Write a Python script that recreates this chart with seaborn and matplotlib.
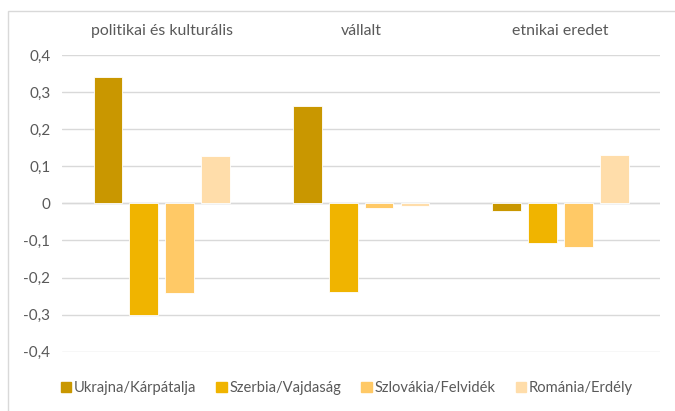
# csoportositott oszlopdiagram: regiok szerinti eltérések harom dimenzioban
import pandas as pd
import matplotlib.pyplot as plt
import seaborn as sns
from matplotlib.patches import Rectangle
from matplotlib.ticker import FuncFormatter

categories = ["politikai és kulturális", "vállalt", "etnikai eredet"]
regions = ["Ukrajna/Kárpátalja", "Szerbia/Vajdaság", "Szlovákia/Felvidék", "Románia/Erdély"]
ukrajna = [0.340, 0.263, -0.020]
szerbia = [-0.301, -0.240, -0.107]
szlovakia = [-0.243, -0.012, -0.118]
romania = [0.128, -0.008, 0.130]
colors = ["#C99700", "#F0B400", "#FFC966", "#FFDDAA"]

rows = []
for reg, vals in zip(regions, [ukrajna, szerbia, szlovakia, romania]):
    for cat, v in zip(categories, vals):
        rows.append({"kategoria": cat, "regio": reg, "ertek": v})
df = pd.DataFrame(rows)

sns.set_style("white")
plt.rcParams["font.family"] = ["Lato", "DejaVu Sans"]
TXT = "#595959"

fig = plt.figure(figsize=(6.75, 4.11), dpi=100)
ax = fig.add_axes([0.092, 0.1443, 0.886, 0.7219])

sns.barplot(data=df, x="kategoria", y="ertek", hue="regio", order=categories,
            hue_order=regions, palette=colors, saturation=1, ax=ax, width=0.72,
            gap=0.2, edgecolor="white", linewidth=0.6, legend=False)

ax.set_ylim(-0.4, 0.4)
ax.set_yticks([-0.4, -0.3, -0.2, -0.1, 0, 0.1, 0.2, 0.3, 0.4])
ax.yaxis.set_major_formatter(FuncFormatter(lambda v, p: "0" if abs(v) < 1e-9 else f"{v:.1f}".replace(".", ",")))
ax.grid(axis="y", color="#D9D9D9", linewidth=1)
ax.set_axisbelow(True)
ax.axhline(0, color="#D9D9D9", linewidth=1, zorder=0)
for s in ax.spines.values():
    s.set_visible(False)
ax.set_xlabel("")
ax.set_ylabel("")
ax.xaxis.tick_top()
ax.tick_params(axis="x", length=0, pad=12, labelsize=11.4, labelcolor=TXT)
ax.tick_params(axis="y", length=0, pad=8.5, labelsize=11, labelcolor=TXT)

handles = [Rectangle((0, 0), 1, 1, color=c) for c in colors]
fig.legend(handles, regions, loc="center", bbox_to_anchor=(0.514, 0.056), ncol=4,
           frameon=False, fontsize=10.6, labelcolor=TXT, handlelength=0.7,
           handleheight=0.7, handletextpad=0.2, columnspacing=1.35)

# keret a diagram korul
fig.patches.append(Rectangle((8 / 675, -0.1), 1.2, 1.1 - 11 / 411, transform=fig.transFigure,
                             fill=False, edgecolor="#D9D9D9", linewidth=1))

plt.savefig("out.png", dpi=100)
